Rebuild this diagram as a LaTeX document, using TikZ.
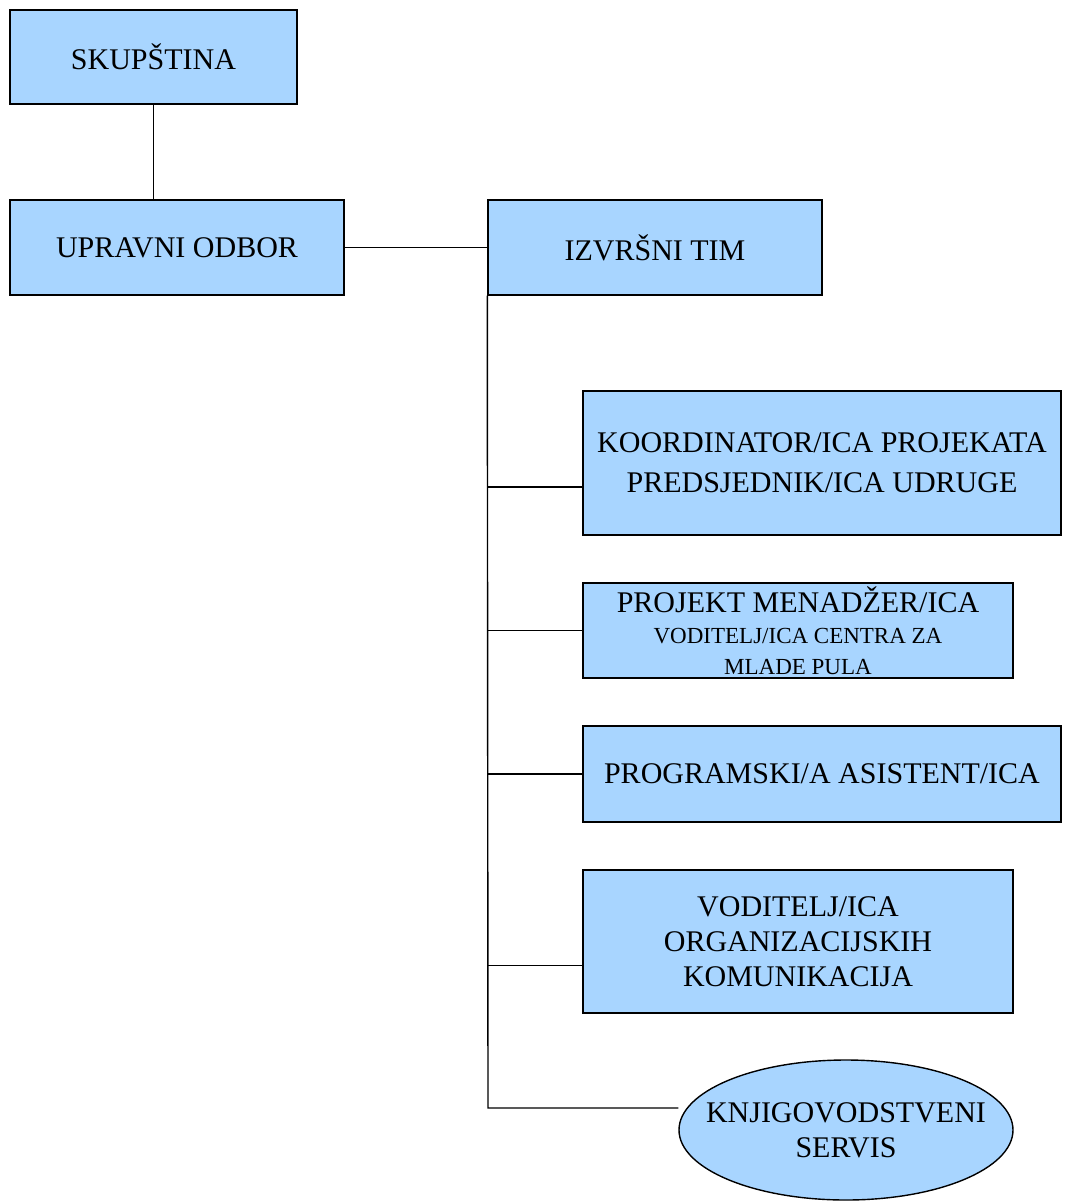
\documentclass[tikz,border=0pt]{standalone}
\usepackage{fontspec}
\setmainfont{Liberation Serif}
\usetikzlibrary{positioning,shapes.geometric}
\definecolor{unitblue}{HTML}{A8D5FF}
\tikzset{
  unit/.style={draw,fill=unitblue,inner sep=0pt,align=center,
    font=\fontsize{15}{17.5}\selectfont}
}
\begin{document}
\begin{tikzpicture}[x=0.5pt,y=-0.5pt,line width=0.7pt]
        \useasboundingbox (0,0) rectangle (1069,1201);
        \node(skup)[unit,minimum width=143.5pt,minimum height=47pt] at (153.5,57) {SKUP\v{S}TINA};
        \node(upr)[unit,minimum width=167pt,minimum height=47.5pt] at (177,247.5) {UPRAVNI ODBOR};
        \node(izv)[unit,minimum width=167pt,minimum height=47.5pt] at (655,247.5) {IZVR\v{S}NI TIM};
        \node(koord)[unit,minimum width=239pt,minimum height=72pt,font=\fontsize{15}{20}\selectfont] at (822,463) {KOORDINATOR/ICA PROJEKATA\\PREDSJEDNIK/ICA UDRUGE};
        \node(proj)[unit,minimum width=215pt,minimum height=47.5pt] at (798,630.5) {PROJEKT MENAD\v{Z}ER/ICA\\[-2pt]{\fontsize{11.5}{14}\selectfont VODITELJ/ICA CENTRA ZA}\\[-2pt]{\fontsize{11.5}{14}\selectfont MLADE PULA}};
        \node(prog)[unit,minimum width=239pt,minimum height=48pt] at (822,774) {PROGRAMSKI/A ASISTENT/ICA};
        \node(vod)[unit,minimum width=215pt,minimum height=71.5pt] at (798,941.5) {VODITELJ/ICA\\ORGANIZACIJSKIH\\KOMUNIKACIJA};
        \node(knjig)[unit,ellipse,minimum width=167pt,minimum height=70pt] at (846,1130) {};
        \node(knjigt)[align=center,inner sep=0pt,font=\fontsize{15}{17.5}\selectfont] at (knjig.center) {KNJIGOVODSTVENI\\SERVIS};
        \coordinate(t5) at (488,1108);
        \draw(skup.south) -- (skup.south |- upr.north);
        \draw(upr.east) -- (izv.west);
        \draw(izv.south west) -- (t5) -- (t5 -| knjig.west);
        \draw([yshift=-12pt]koord.west) -- ([yshift=-12pt]koord.west -| izv.west);
        \draw(proj.west) -- (proj.west -| izv.west);
        \draw(prog.west) -- (prog.west -| izv.west);
        \draw([yshift=-12pt]vod.west) -- ([yshift=-12pt]vod.west -| izv.west);
    \end{tikzpicture}
\end{document}
